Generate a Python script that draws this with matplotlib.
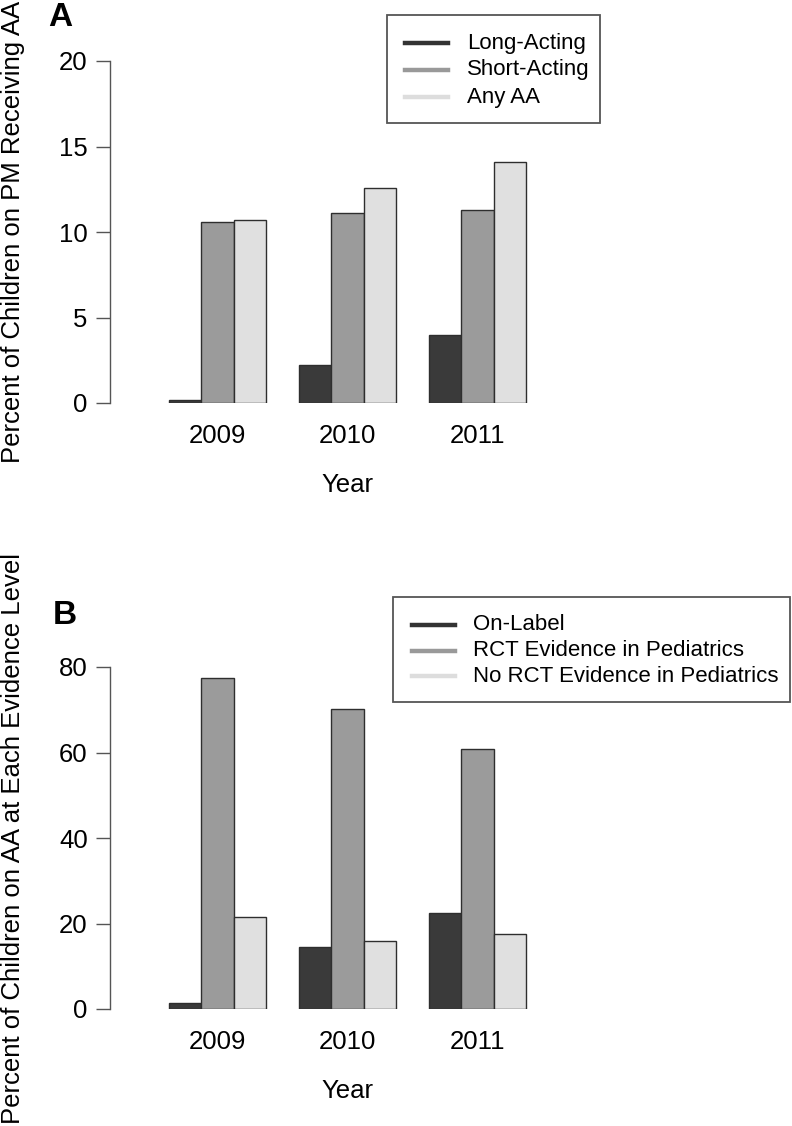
import matplotlib
matplotlib.use('Agg')
import matplotlib.pyplot as plt
from matplotlib.lines import Line2D
from matplotlib.patches import Rectangle
import numpy as np

plt.rcParams['font.family'] = ['Liberation Sans', 'DejaVu Sans']

# Data
years = ['2009', '2010', '2011']

# Panel A: percent of children on PM receiving AA
long_acting = [0.15, 2.2, 4.0]
short_acting = [10.6, 11.1, 11.3]
any_aa = [10.7, 12.6, 14.1]
labels_a = ['Long-Acting', 'Short-Acting', 'Any AA']

# Panel B: percent of children on AA at each evidence level
on_label = [1.3, 14.5, 22.4]
rct_evidence = [77.4, 70.2, 60.8]
no_rct_evidence = [21.5, 16.0, 17.5]
labels_b = ['On-Label', 'RCT Evidence in Pediatrics', 'No RCT Evidence in Pediatrics']

colors = ['#3a3a3a', '#9b9b9b', '#e0e0e0']
legend_colors = ['#333333', '#999999', '#dddddd']

W, H = 792, 1126
fig = plt.figure(figsize=(W / 100, H / 100), dpi=100)


def px_box(left, top, right, bottom):
    # pixel box -> figure fraction [l, b, w, h]
    return [left / W, 1 - bottom / H, (right - left) / W, (bottom - top) / H]


def draw_panel(ax, series, ymax, step, ylabel):
    x = np.arange(len(years)) * 4
    for i, vals in enumerate(series):
        ax.bar(x + i, vals, width=1, align='edge', color=colors[i],
               edgecolor='#2e2e2e', linewidth=1.0)
    ax.set_xlim(-1.82, 19.2)
    ax.set_ylim(0, ymax)
    ax.set_yticks(np.arange(0, ymax + 1, step))
    ax.set_xticks(x + 1.5)
    ax.set_xticklabels(years)
    for s in ['top', 'right', 'bottom']:
        ax.spines[s].set_visible(False)
    ax.spines['left'].set_color('#555555')
    ax.spines['left'].set_linewidth(1.0)
    ax.tick_params(axis='y', length=10, width=1, color='#555555', pad=6, labelsize=18.5)
    ax.tick_params(axis='x', length=0, pad=15, labelsize=18.5)
    ax.set_xlabel('Year', fontsize=18.5)
    ax.xaxis.set_label_coords((347 - 110) / 682, -82 / 342)
    ax.xaxis.label.set_va('center')
    ax.set_ylabel(ylabel, fontsize=18.5)
    ax.yaxis.set_label_coords(-97 / 682, 0.5)
    ax.yaxis.label.set_va('center')


def draw_legend(labels, box, handle_x, text_x, rows):
    left, top, right, bottom = box
    fig.patches.append(Rectangle((left / W, 1 - bottom / H), (right - left) / W,
                                 (bottom - top) / H, transform=fig.transFigure,
                                 facecolor='white', edgecolor='#555555',
                                 linewidth=1.3, zorder=5))
    for i, lab in enumerate(labels):
        y = 1 - rows[i] / H
        fig.add_artist(Line2D([handle_x[0] / W, handle_x[1] / W], [y, y],
                              transform=fig.transFigure, color=legend_colors[i],
                              linewidth=3.2, zorder=6))
        fig.text(text_x / W, y, lab, fontsize=16, va='center', ha='left', zorder=6)


ax_a = fig.add_axes(px_box(110, 61, 792, 403))
draw_panel(ax_a, [long_acting, short_acting, any_aa], 20, 5,
           'Percent of Children on PM Receiving AA')
ax_b = fig.add_axes(px_box(110, 667, 792, 1009))
draw_panel(ax_b, [on_label, rct_evidence, no_rct_evidence], 80, 20,
           'Percent of Children on AA at Each Evidence Level')

draw_legend(labels_a, (387, 15, 600, 123), (405, 448), 467, [43, 70, 97])
draw_legend(labels_b, (393, 597, 790, 702), (412, 455), 473, [625, 651, 676])

fig.text(60 / W, 1 - 18 / H, 'A', fontsize=24, fontweight='bold', ha='center', va='center')
fig.text(65 / W, 1 - 616 / H, 'B', fontsize=24, fontweight='bold', ha='center', va='center')

fig.savefig('out.png', dpi=100)
